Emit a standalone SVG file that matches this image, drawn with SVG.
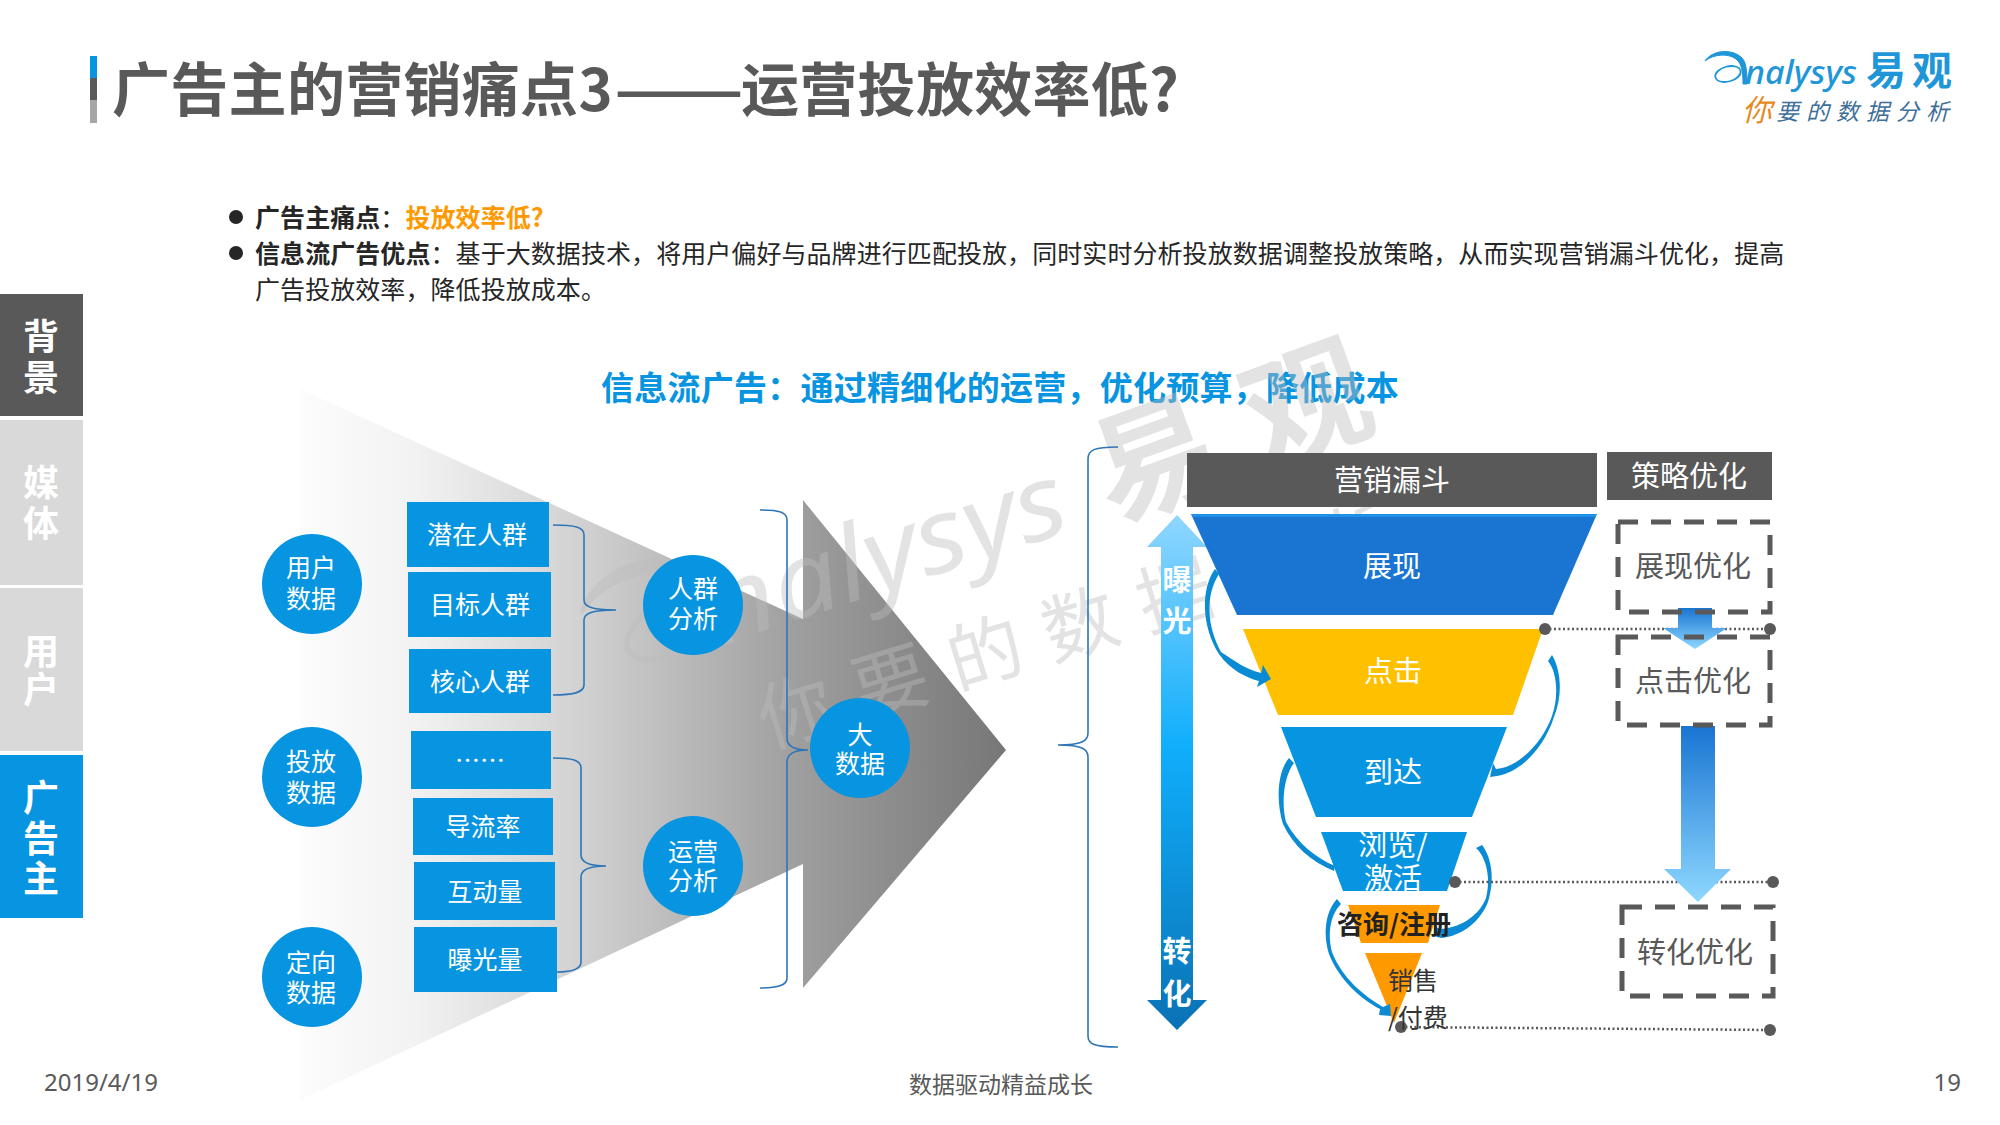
<svg xmlns="http://www.w3.org/2000/svg" width="2000" height="1125" viewBox="0 0 2000 1125">
<style>
text{font-family:"Noto Sans CJK SC","Noto Sans",sans-serif}
.b{font-weight:700}
.n{font-size:25px;fill:#fff;text-anchor:middle}
.f{font-size:29px;fill:#fff;text-anchor:middle}
.d{font-size:29px;fill:#595959;text-anchor:middle}
.side{font-size:36px;font-weight:700;fill:#fff;text-anchor:middle}
.body{font-size:25px;fill:#262626;letter-spacing:.07px}
.blue{fill:#0794e0}
.brace{fill:none;stroke:#2e75b6;stroke-width:1.6}
.dash{fill:none;stroke:#595959;stroke-width:5;stroke-dasharray:20 13}
.dot{fill:none;stroke:#595959;stroke-width:2.5;stroke-dasharray:2 2.5}
.pt{fill:#595959}
.curve{fill:#0a8bd4}
.wm{fill:#bdbdbd;opacity:.42}
.foot{font-size:24px;fill:#595959;font-family:"Noto Sans",sans-serif}
.ttl{font-size:58px;font-weight:700;fill:#595959}
</style>
<defs>
<linearGradient id="big" gradientUnits="userSpaceOnUse" x1="295" y1="0" x2="1006" y2="0"><stop offset="0" stop-color="#fdfdfd"/><stop offset=".17" stop-color="#f2f2f2"/><stop offset=".41" stop-color="#d0d0d0"/><stop offset=".71" stop-color="#9e9e9e"/><stop offset="1" stop-color="#777"/></linearGradient>
<linearGradient id="dbl" x1="0" y1="0" x2="0" y2="1"><stop offset="0" stop-color="#8fd6ff"/><stop offset=".45" stop-color="#10aefc"/><stop offset="1" stop-color="#0a72b4"/></linearGradient>
<linearGradient id="down" x1="0" y1="0" x2="0" y2="1"><stop offset="0" stop-color="#1a75d2"/><stop offset="1" stop-color="#8ed8ff"/></linearGradient>
<g id="mark"><path d="M1705 61C1712 50 1732 48 1742 58C1746 62 1747 70 1747 84L1743 84C1743 72 1742 64 1736 59C1728 53 1714 54 1705 61Z"/><ellipse cx="1728" cy="74" rx="13" ry="7.5" transform="rotate(-15 1728 74)" fill="none" stroke-width="1.8"/></g>
</defs>
<rect width="2000" height="1125" fill="#fff"/>
<g id="title-bar"><rect x="90" y="56" width="7" height="22" fill="#0794e0"/><rect x="90" y="78" width="7" height="22" fill="#595959"/><rect x="90" y="100" width="7" height="23" fill="#a6a6a6"/></g>
<g id="title"><text class="ttl" x="112" y="111" letter-spacing=".3">广告主的营销痛点3</text><text class="ttl" x="614" y="111" textLength="130" lengthAdjust="spacingAndGlyphs">——</text><text class="ttl" x="741" y="111" letter-spacing=".3">运营投放效率低?</text></g>
<g id="logo">
<use href="#mark" fill="#1e96d8" stroke="#1e96d8"/>
<text x="1745" y="84" font-size="32" font-style="italic" font-weight="500" fill="#1e96d8" style="font-family:'Noto Sans',sans-serif" textLength="112" lengthAdjust="spacingAndGlyphs">nalysys</text>
<text x="1866" y="85" font-size="40" font-weight="700" fill="#1e96d8" letter-spacing="6">易观</text>
<text x="1742" y="121" font-size="30" font-style="italic" fill="#e58a1f">你</text>
<text x="1776" y="120" font-size="23" font-style="italic" fill="#3f6f99" letter-spacing="7">要的数据分析</text>
</g>
<g id="bullets">
<circle cx="236" cy="217" r="7" fill="#262626"/><circle cx="236" cy="253" r="7" fill="#262626"/>
<text class="body" x="255" y="227"><tspan class="b">广告主痛点</tspan>：<tspan class="b" fill="#ff9900">投放效率低?</tspan></text>
<text class="body" x="255" y="263"><tspan class="b">信息流广告优点</tspan>：基于大数据技术，将用户偏好与品牌进行匹配投放，同时实时分析投放数据调整投放策略，从而实现营销漏斗优化，提高</text>
<text class="body" x="255" y="299">广告投放效率，降低投放成本。</text>
</g>
<g id="sidebar">
<g id="tab-bg"><rect y="294" width="83" height="122" fill="#595959"/><text class="side" x="41" y="350">背</text><text class="side" x="41" y="391">景</text></g>
<g id="tab-media"><rect y="420" width="83" height="165" fill="#d9d9d9"/><text class="side" x="41" y="496">媒</text><text class="side" x="41" y="537">体</text></g>
<g id="tab-user"><rect y="588" width="83" height="163" fill="#d9d9d9"/><text class="side" x="41" y="665">用</text><text class="side" x="41" y="703">户</text></g>
<g id="tab-adv"><rect y="755" width="83" height="163" fill="#0794e0"/><text class="side" x="41" y="811">广</text><text class="side" x="41" y="852">告</text><text class="side" x="41" y="892">主</text></g>
</g>
<text id="subtitle" x="601" y="400" font-size="33" font-weight="700" fill="#0794e0" letter-spacing=".25">信息流广告：通过精细化的运营，优化预算，降低成本</text>
<polygon id="big-arrow" points="300,389 803,619 803,500 1006,750 803,988 803,864 300,1100" fill="url(#big)"/>
<g id="watermark">
<use href="#mark" fill="#bdbdbd" stroke="#bdbdbd" opacity=".42" transform="translate(720 645) rotate(-18) scale(3.2) translate(-1743 -84)"/>
<text class="wm" transform="translate(720 645) rotate(-18)" font-size="104" font-style="italic" style="font-family:'Noto Sans',sans-serif" textLength="372" lengthAdjust="spacingAndGlyphs">nalysys</text>
<text class="wm" transform="translate(1112 523) rotate(-20)" font-size="125" font-weight="700" letter-spacing="36">易观</text>
<text class="wm" transform="translate(768 748) rotate(-17)" font-size="75" letter-spacing="24">你要的数据分析</text>
</g>
<g id="node-user"><circle class="blue" cx="312" cy="584" r="50"/><text class="n" x="311" y="577">用户</text><text class="n" x="311" y="608">数据</text></g>
<g id="node-put"><circle class="blue" cx="312" cy="777" r="50"/><text class="n" x="311" y="771">投放</text><text class="n" x="311" y="802">数据</text></g>
<g id="node-target"><circle class="blue" cx="312" cy="977" r="50"/><text class="n" x="311" y="972">定向</text><text class="n" x="311" y="1002">数据</text></g>
<g id="r1"><rect class="blue" x="407" y="502" width="142" height="65"/><text class="n" x="477" y="544">潜在人群</text></g>
<g id="r2"><rect class="blue" x="408" y="572" width="143" height="65"/><text class="n" x="480" y="614">目标人群</text></g>
<g id="r3"><rect class="blue" x="409" y="649" width="142" height="64"/><text class="n" x="480" y="691">核心人群</text></g>
<g id="r4"><rect class="blue" x="411" y="731" width="140" height="58"/><text class="n" x="480" y="770">……</text></g>
<g id="r5"><rect class="blue" x="413" y="798" width="140" height="57"/><text class="n" x="483" y="836">导流率</text></g>
<g id="r6"><rect class="blue" x="414" y="862" width="141" height="58"/><text class="n" x="485" y="901">互动量</text></g>
<g id="r7"><rect class="blue" x="414" y="927" width="143" height="65"/><text class="n" x="485" y="969">曝光量</text></g>
<g id="node-crowd"><circle class="blue" cx="693" cy="605" r="50"/><text class="n" x="693" y="598">人群</text><text class="n" x="693" y="628">分析</text></g>
<g id="node-ops"><circle class="blue" cx="693" cy="866" r="50"/><text class="n" x="693" y="861">运营</text><text class="n" x="693" y="890">分析</text></g>
<g id="node-big"><circle class="blue" cx="860" cy="748" r="50"/><text class="n" x="860" y="744">大</text><text class="n" x="860" y="773">数据</text></g>
<g id="funnel-head"><rect x="1187" y="453" width="410" height="54" fill="#595959"/><text class="f" x="1392" y="491">营销漏斗</text></g>
<g id="strategy-head"><rect x="1607" y="452" width="165" height="48" fill="#595959"/><text class="f" x="1689" y="487">策略优化</text></g>
<g id="double-arrow"><polygon points="1177,515 1207,547 1193,547 1193,1000 1207,1000 1177,1030 1147,1000 1161,1000 1161,547 1147,547" fill="url(#dbl)"/>
<text class="f b" x="1177" y="591">曝</text><text class="f b" x="1177" y="632">光</text><text class="f b" x="1177" y="962">转</text><text class="f b" x="1177" y="1005">化</text></g>
<g id="f1"><polygon points="1191,514 1597,514 1553,615 1237,615" fill="#1a75d2"/><rect x="1192" y="514" width="404" height="3" fill="#1e90e6"/><text class="f" x="1392" y="577">展现</text></g>
<g id="f2"><polygon points="1243,629 1543,629 1513,715 1278,715" fill="#ffc000"/><text class="f" x="1393" y="682">点击</text></g>
<g id="f3"><polygon points="1281,727 1507,727 1472,817 1316,817" fill="#0794e0"/><text class="f" x="1393" y="783">到达</text></g>
<g id="f4"><polygon points="1321,832 1467,832 1447,891 1343,891" fill="#0794e0"/><text class="f" x="1393" y="856">浏览/</text><text class="f" x="1393" y="889">激活</text></g>
<g id="f5"><polygon points="1348,905 1440,905 1428,943 1361,943" fill="#ff9900"/></g>
<g id="f6"><polygon points="1365,953 1422,953 1394,1023" fill="#ff9900"/></g>
<g id="connectors">
<path class="brace" d="M553 525C575 525 584 527 584 535V600C584 606 590 610 616 610C590 610 584 614 584 620V685C584 692 575 695 553 695"/>
<path class="brace" d="M553 758C572 758 581 760 581 768V855C581 862 590 866 606 866C590 866 581 870 581 877V962C581 969 572 972 557 972"/>
<path class="brace" d="M760 510C779 510 787 512 787 520V738C787 746 793 750 808 750C793 750 787 754 787 762V978C787 985 779 988 760 988"/>
<path class="brace" d="M1118 447C1094 447 1088 450 1088 459V733C1088 741 1082 745 1058 745C1082 745 1088 749 1088 757V1036C1088 1044 1094 1047 1118 1047"/>
<path class="curve" d="M1215 569C1201 588 1201 626 1219 654C1230 670 1247 678 1259 681L1257 687L1271 679L1263 665L1261 673C1247 670 1233 660 1221 652C1207 626 1205 596 1219 574Z"/>
<path class="curve" d="M1548 661C1557 672 1559 696 1552 716C1542 744 1517 768 1496 769L1493 763L1490 777L1497 776C1521 772 1544 748 1554 717C1563 695 1561 670 1552 655Z"/>
<path class="curve" d="M1289 758C1277 772 1276 802 1283 824C1293 846 1312 862 1334 871L1335 866C1316 858 1298 844 1286 822C1281 802 1284 776 1294 763Z"/>
<path class="curve" d="M1476 848C1487 858 1491 880 1486 898C1478 918 1458 928 1440 929L1434 926L1434 936L1441 938C1462 936 1480 922 1488 902C1495 880 1492 858 1482 845Z"/>
<path class="curve" d="M1337 899C1325 912 1323 934 1329 954C1339 980 1362 1000 1380 1009L1379 1015L1391 1016L1390 1004L1383 1007C1364 996 1342 978 1332 952C1327 932 1331 914 1341 904Z"/>
<path class="dot" d="M1545 629H1770"/><circle class="pt" cx="1545" cy="629" r="6"/><circle class="pt" cx="1770" cy="629" r="6"/>
<path class="dot" d="M1455 882H1773"/><circle class="pt" cx="1455" cy="882" r="6"/><circle class="pt" cx="1773" cy="882" r="6"/>
<path class="dot" d="M1401 1027L1770 1030"/><circle class="pt" cx="1401" cy="1027" r="6"/><circle class="pt" cx="1770" cy="1030" r="6"/>
<polygon points="1678,608 1712,608 1712,628 1727,628 1695,649 1663,628 1678,628" fill="url(#down)"/>
<polygon points="1681,726 1715,726 1715,869 1731,869 1698,902 1664,869 1681,869" fill="url(#down)"/>
</g>
<text id="f5-label" x="1394" y="934" font-size="26" font-weight="700" fill="#222" text-anchor="middle">咨询/注册</text>
<g id="f6-label"><text x="1388" y="990" font-size="25" fill="#333">销售</text><text x="1388" y="1027" font-size="25" fill="#333">/付费</text></g>
<g id="opt1"><rect class="dash" x="1618" y="522" width="152" height="90"/><text class="d" x="1693" y="577">展现优化</text></g>
<g id="opt2"><rect class="dash" x="1618" y="637" width="152" height="88"/><text class="d" x="1693" y="692">点击优化</text></g>
<g id="opt3"><rect class="dash" x="1622" y="907" width="151" height="89"/><text class="d" x="1695" y="963">转化优化</text></g>
<g id="footer"><text class="foot" x="44" y="1091">2019/4/19</text><text x="1001" y="1093" font-size="23" fill="#595959" text-anchor="middle">数据驱动精益成长</text><text class="foot" x="1961" y="1091" text-anchor="end">19</text></g>
</svg>
